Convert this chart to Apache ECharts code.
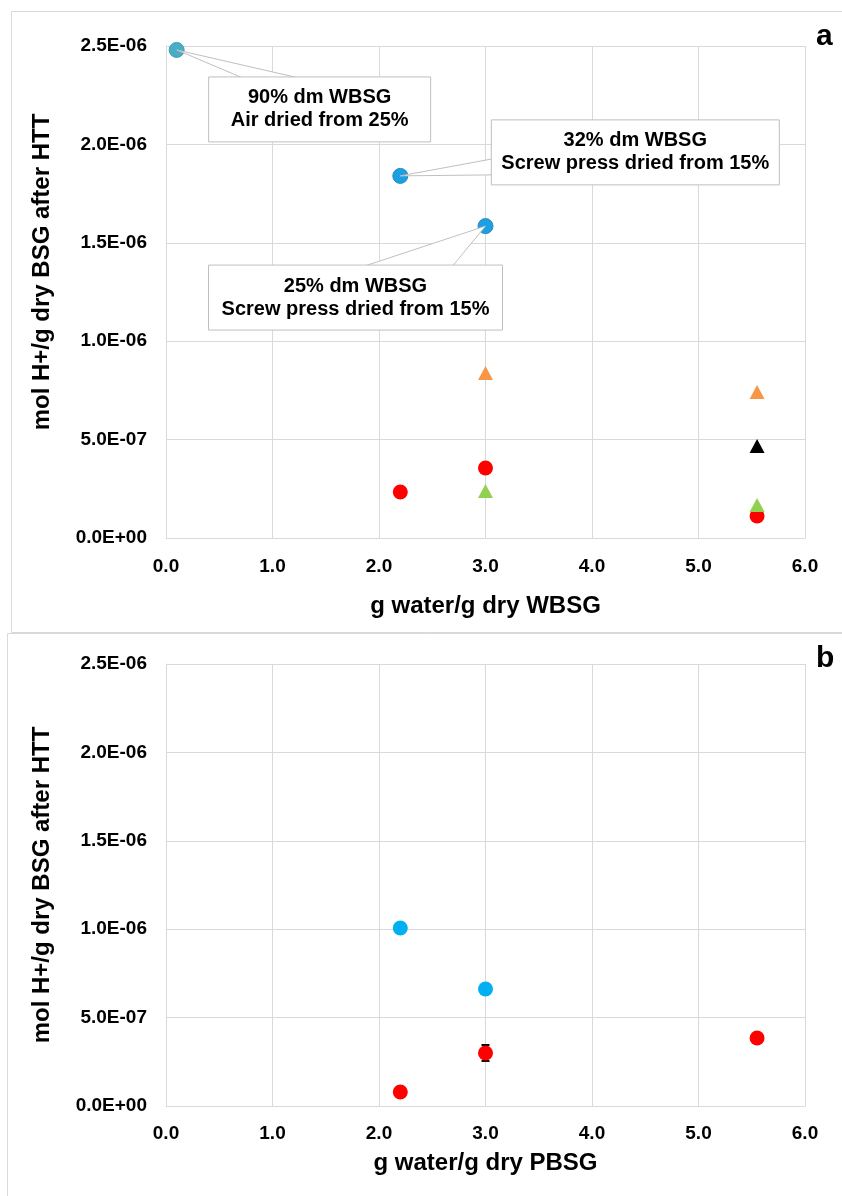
<!DOCTYPE html>
<html lang="en">
<head>
    <meta charset="UTF-8">
    <script src="https://cdn.jsdelivr.net/npm/echarts@6/dist/echarts.min.js"></script>
    <style>
        body { margin: 0; background: #fff; }
        #chart { width: 842px; height: 1196px; }
    </style>
</head>
<body>
<div id="chart"></div>

<script>
    // panel a: WBSG
    var aAirDried = [[0.1, 2.48e-6]];
    var aScrewPress = [[2.2, 1.84e-6], [3.0, 1.585e-6]];
    var aRed = [[2.2, 0.234e-6], [3.0, 0.356e-6], [5.55, 0.112e-6]];
    var aOrange = [[3.0, 0.838e-6], [5.55, 0.742e-6]];
    var aGreen = [[3.0, 0.239e-6], [5.55, 0.168e-6]];
    var aBlack = [[5.55, 0.467e-6]];

    // panel b: PBSG
    var bBlue = [[2.2, 1.007e-6], [3.0, 0.662e-6]];
    var bRed = [[2.2, 0.079e-6], [3.0, 0.30e-6], [5.55, 0.385e-6]];
    var bRedErr = [[3.0, 0.255e-6, 0.345e-6]];

    var calloutTexts = [
        '90% dm WBSG\nAir dried from 25%',
        '32% dm WBSG\nScrew press dried from 15%',
        '25% dm WBSG\nScrew press dried from 15%'
    ];
    var calloutPoints = [aAirDried[0], aScrewPress[0], aScrewPress[1]];

    var grey = '#d9d9d9';
    var font = 'Liberation Sans, Arial, sans-serif';

    function sci(v) {
        if (v === 0) return '0.0E+00';
        var s = v.toExponential(1).split('e');
        var e = parseInt(s[1], 10);
        return s[0] + 'E' + (e < 0 ? '-' : '+') + ('0' + Math.abs(e)).slice(-2);
    }

    function xAxisOf(idx, title, gap, margin) {
        return {
            gridIndex: idx, type: 'value', min: 0, max: 6, interval: 1,
            name: title, nameLocation: 'middle', nameGap: gap,
            nameTextStyle: { fontFamily: font, fontWeight: 'bold', fontSize: 24, color: '#000' },
            axisLine: { show: true, lineStyle: { color: grey } },
            axisTick: { show: false },
            axisLabel: { margin: margin, fontFamily: font, fontWeight: 'bold', fontSize: 19, color: '#000',
                formatter: function (v) { return v.toFixed(1); } },
            splitLine: { show: true, lineStyle: { color: grey } }
        };
    }

    function yAxisOf(idx, pad) {
        return {
            gridIndex: idx, type: 'value', min: 0, max: 2.5e-6, interval: 0.5e-6,
            name: 'mol H+/g dry BSG after HTT', nameLocation: 'middle', nameGap: 112,
            nameTextStyle: { fontFamily: font, fontWeight: 'bold', fontSize: 24, color: '#000', padding: pad },
            axisLine: { show: true, lineStyle: { color: grey } },
            axisTick: { show: false },
            axisLabel: { margin: 19, fontFamily: font, fontWeight: 'bold', fontSize: 19, color: '#000', formatter: sci },
            splitLine: { show: true, lineStyle: { color: grey } }
        };
    }

    function dots(idx, data, color, symbol, border) {
        return {
            type: 'scatter', xAxisIndex: idx, yAxisIndex: idx, data: data,
            symbol: symbol || 'circle', symbolSize: symbol === 'triangle' ? [15, 14] : 15,
            itemStyle: { color: color, borderColor: border || color, borderWidth: border ? 1 : 0, opacity: 1 },
            z: 3
        };
    }

    var chart = echarts.init(document.getElementById('chart'));

    var option = {
        animation: false,
        grid: [
            { left: 166, top: 46, width: 639, height: 492 },
            { left: 166, top: 664, width: 639, height: 442 }
        ],
        xAxis: [xAxisOf(0, 'g water/g dry WBSG', 56, 19), xAxisOf(1, 'g water/g dry PBSG', 45, 18)],
        yAxis: [yAxisOf(0, [0, 0, 0, 40]), yAxisOf(1, 0)],
        series: [
            dots(0, aAirDried, '#4bacc6', 'circle', '#3f9cb5'),
            dots(0, aScrewPress, '#1ba1e2', 'circle', '#2b86c5'),
            dots(0, aRed, '#ff0000'),
            dots(0, aOrange, '#f79646', 'triangle'),
            dots(0, aGreen, '#92d050', 'triangle'),
            dots(0, aBlack, '#000000', 'triangle'),
            {
                type: 'custom', xAxisIndex: 1, yAxisIndex: 1, data: bRedErr, z: 2,
                renderItem: function (params, api) {
                    var lo = api.coord([api.value(0), api.value(1)]);
                    var hi = api.coord([api.value(0), api.value(2)]);
                    var st = { stroke: '#000', lineWidth: 2 };
                    return {
                        type: 'group', children: [
                            { type: 'line', shape: { x1: lo[0], y1: lo[1], x2: hi[0], y2: hi[1] }, style: st },
                            { type: 'line', shape: { x1: lo[0] - 4, y1: lo[1], x2: lo[0] + 4, y2: lo[1] }, style: st },
                            { type: 'line', shape: { x1: hi[0] - 4, y1: hi[1], x2: hi[0] + 4, y2: hi[1] }, style: st }
                        ]
                    };
                }
            },
            dots(1, bBlue, '#00b0f0'),
            dots(1, bRed, '#ff0000')
        ]
    };
    chart.setOption(option);

    // callout boxes: box offset, size and wedge base points, relative to the point
    var calloutLayout = [
        { dx: 32, dy: 27, w: 222, h: 65, b1: [66, 28], b2: [122, 28] },
        { dx: 91, dy: -56, w: 288, h: 65, b1: [92, -17], b2: [92, -1] },
        { dx: -277, dy: 39, w: 294, h: 65, b1: [-121, 40], b2: [-33, 40] }
    ];

    var graphics = [
        { type: 'rect', shape: { x: 11.5, y: 11.5, width: 840, height: 621 }, style: { fill: null, stroke: grey, lineWidth: 1 }, z: 0 },
        { type: 'rect', shape: { x: 7.5, y: 633.5, width: 840, height: 600 }, style: { fill: null, stroke: grey, lineWidth: 1 }, z: 0 },
        { type: 'text', left: 816, top: 22, style: { text: 'a', font: 'bold 30px ' + font, fill: '#000' }, z: 10 },
        { type: 'text', left: 816, top: 644, style: { text: 'b', font: 'bold 30px ' + font, fill: '#000' }, z: 10 }
    ];

    calloutPoints.forEach(function (pt, i) {
        var p = chart.convertToPixel({ gridIndex: 0 }, pt);
        var L = calloutLayout[i];
        var bx = p[0] + L.dx, by = p[1] + L.dy;
        graphics.push({
            type: 'polygon', z: 20,
            shape: { points: [[p[0] + L.b1[0], p[1] + L.b1[1]], [p[0], p[1]], [p[0] + L.b2[0], p[1] + L.b2[1]]] },
            style: { fill: '#fff', stroke: '#bfbfbf', lineWidth: 1 }
        });
        graphics.push({
            type: 'rect', z: 21,
            shape: { x: bx, y: by, width: L.w, height: L.h },
            style: { fill: '#fff', stroke: '#bfbfbf', lineWidth: 1 }
        });
        graphics.push({
            type: 'text', z: 22, x: bx + L.w / 2, y: by + L.h / 2,
            style: {
                text: calloutTexts[i], font: 'bold 20px ' + font, fill: '#000',
                align: 'center', verticalAlign: 'middle', lineHeight: 23
            }
        });
    });

    chart.setOption({ graphic: graphics });
</script>
</body>
</html>
